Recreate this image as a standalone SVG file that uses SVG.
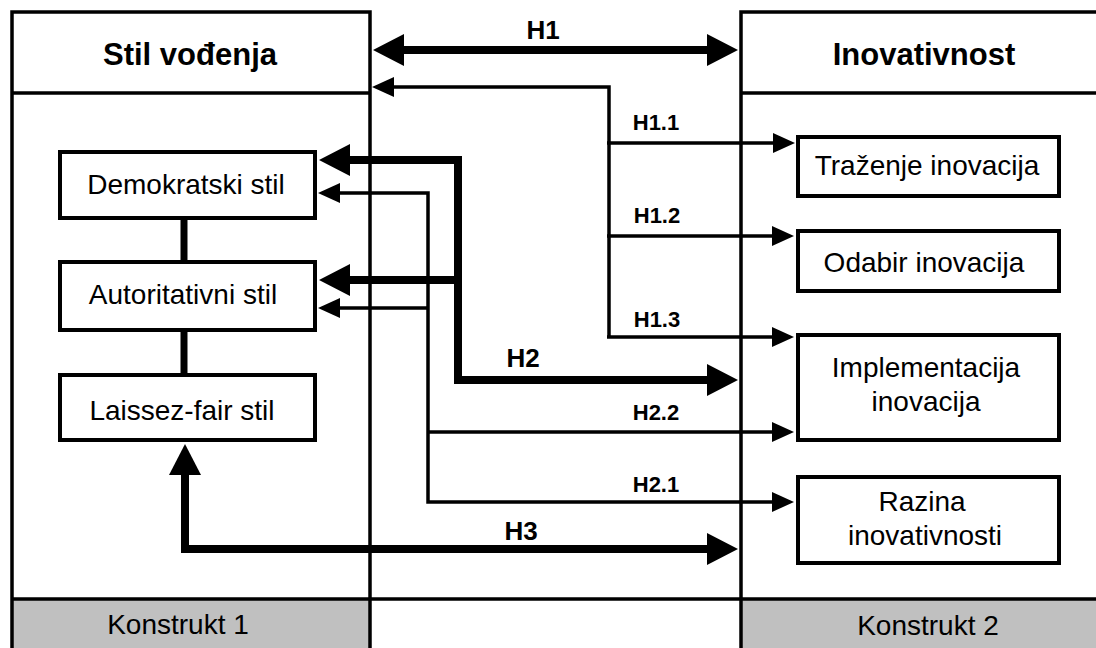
<svg xmlns="http://www.w3.org/2000/svg" width="1096" height="648" viewBox="0 0 1096 648">
<style>
.frame{fill:none;stroke:#000;stroke-width:3.5}
.gray{fill:#c0c0c0;stroke:none}
.box{fill:#fff;stroke:#000;stroke-width:4}
.thin{fill:none;stroke:#000;stroke-width:3.5;stroke-linejoin:miter}
.thick{fill:none;stroke:#000;stroke-width:8;stroke-linejoin:miter}
.link{fill:none;stroke:#000;stroke-width:7}
text{font-family:"Liberation Sans",Arial,sans-serif;fill:#000;text-anchor:middle}
.hdr{font-size:31px;font-weight:bold}
.lbl{font-size:28px}
.h{font-size:26px;font-weight:bold}
.hs{font-size:22px;font-weight:bold}
</style>
<defs>
<marker id="ah" markerUnits="userSpaceOnUse" markerWidth="31" markerHeight="34" refX="1" refY="17" orient="auto-start-reverse" viewBox="0 0 31 34">
<path d="M0,1 L31,17 L0,33 z" fill="#000"/>
</marker>
<marker id="as" markerUnits="userSpaceOnUse" markerWidth="22" markerHeight="22" refX="1" refY="11" orient="auto-start-reverse" viewBox="0 0 22 22">
<path d="M0,1 L22,11 L0,21 z" fill="#000"/>
</marker>
</defs>
<rect width="1096" height="648" fill="#fff"/>
<g id="konstrukt1">
<rect class="gray" x="12" y="599" width="358" height="52"/>
<rect class="frame" x="12" y="12" width="358" height="645"/>
<line class="frame" x1="12" y1="93" x2="370" y2="93"/>
<text class="hdr" x="190" y="65">Stil vođenja</text>
<text class="lbl" x="178" y="634">Konstrukt 1</text>
</g>
<g id="konstrukt2">
<rect class="gray" x="741" y="599" width="360" height="52"/>
<rect class="frame" x="741" y="12" width="400" height="645"/>
<line class="frame" x1="741" y1="93" x2="1100" y2="93"/>
<text class="hdr" x="924" y="65">Inovativnost</text>
<text class="lbl" x="928" y="635">Konstrukt 2</text>
</g>
<g id="bottom-line">
<line class="frame" x1="12" y1="599" x2="1100" y2="599"/>
</g>
<g id="connectors">
<line class="link" x1="184" y1="218" x2="184" y2="262"/>
<line class="link" x1="184" y1="330" x2="184" y2="375"/>
<line class="thick" x1="403" y1="50" x2="708" y2="50" marker-start="url(#ah)" marker-end="url(#ah)"/>
<path class="thin" d="M609,337 V87 H393" marker-end="url(#as)"/>
<path class="thin" d="M607,143 H774" marker-end="url(#as)"/>
<path class="thin" d="M607,236 H773" marker-end="url(#as)"/>
<path class="thin" d="M607,337 H773" marker-end="url(#as)"/>
<path class="thick" d="M349,160 H458 V380 H708" marker-start="url(#ah)" marker-end="url(#ah)"/>
<path class="thick" d="M458,280 H349" marker-end="url(#ah)"/>
<path class="thin" d="M339,193 H428 V502 H773" marker-start="url(#as)" marker-end="url(#as)"/>
<path class="thin" d="M428,308 H339" marker-end="url(#as)"/>
<path class="thin" d="M428,432 H773" marker-end="url(#as)"/>
<path class="thick" d="M185,474 V549 H708" marker-start="url(#ah)" marker-end="url(#ah)"/>
<text class="h" x="543" y="39">H1</text>
<text class="hs" x="656" y="130">H1.1</text>
<text class="hs" x="657" y="223">H1.2</text>
<text class="hs" x="657" y="327">H1.3</text>
<text class="h" x="523" y="367">H2</text>
<text class="hs" x="656" y="420">H2.2</text>
<text class="hs" x="656" y="492">H2.1</text>
<text class="h" x="521" y="540">H3</text>
</g>
<g id="demokratski">
<rect class="box" x="60" y="152" width="255" height="66"/>
<text class="lbl" x="186" y="194">Demokratski stil</text>
</g>
<g id="autoritativni">
<rect class="box" x="60" y="262" width="255" height="68"/>
<text class="lbl" x="183" y="304">Autoritativni stil</text>
</g>
<g id="laissez-fair">
<rect class="box" x="60" y="375" width="255" height="65"/>
<text class="lbl" x="182" y="420">Laissez-fair stil</text>
</g>
<g id="trazenje">
<rect class="box" x="798" y="137" width="261" height="59"/>
<text class="lbl" x="927" y="175">Traženje inovacija</text>
</g>
<g id="odabir">
<rect class="box" x="798" y="231" width="261" height="60"/>
<text class="lbl" x="924" y="272">Odabir inovacija</text>
</g>
<g id="implementacija">
<rect class="box" x="798" y="335" width="261" height="105"/>
<text class="lbl" x="926" y="377">Implementacija</text>
<text class="lbl" x="926" y="411">inovacija</text>
</g>
<g id="razina">
<rect class="box" x="798" y="477" width="261" height="86"/>
<text class="lbl" x="922" y="511">Razina</text>
<text class="lbl" x="925" y="545">inovativnosti</text>
</g>
</svg>
